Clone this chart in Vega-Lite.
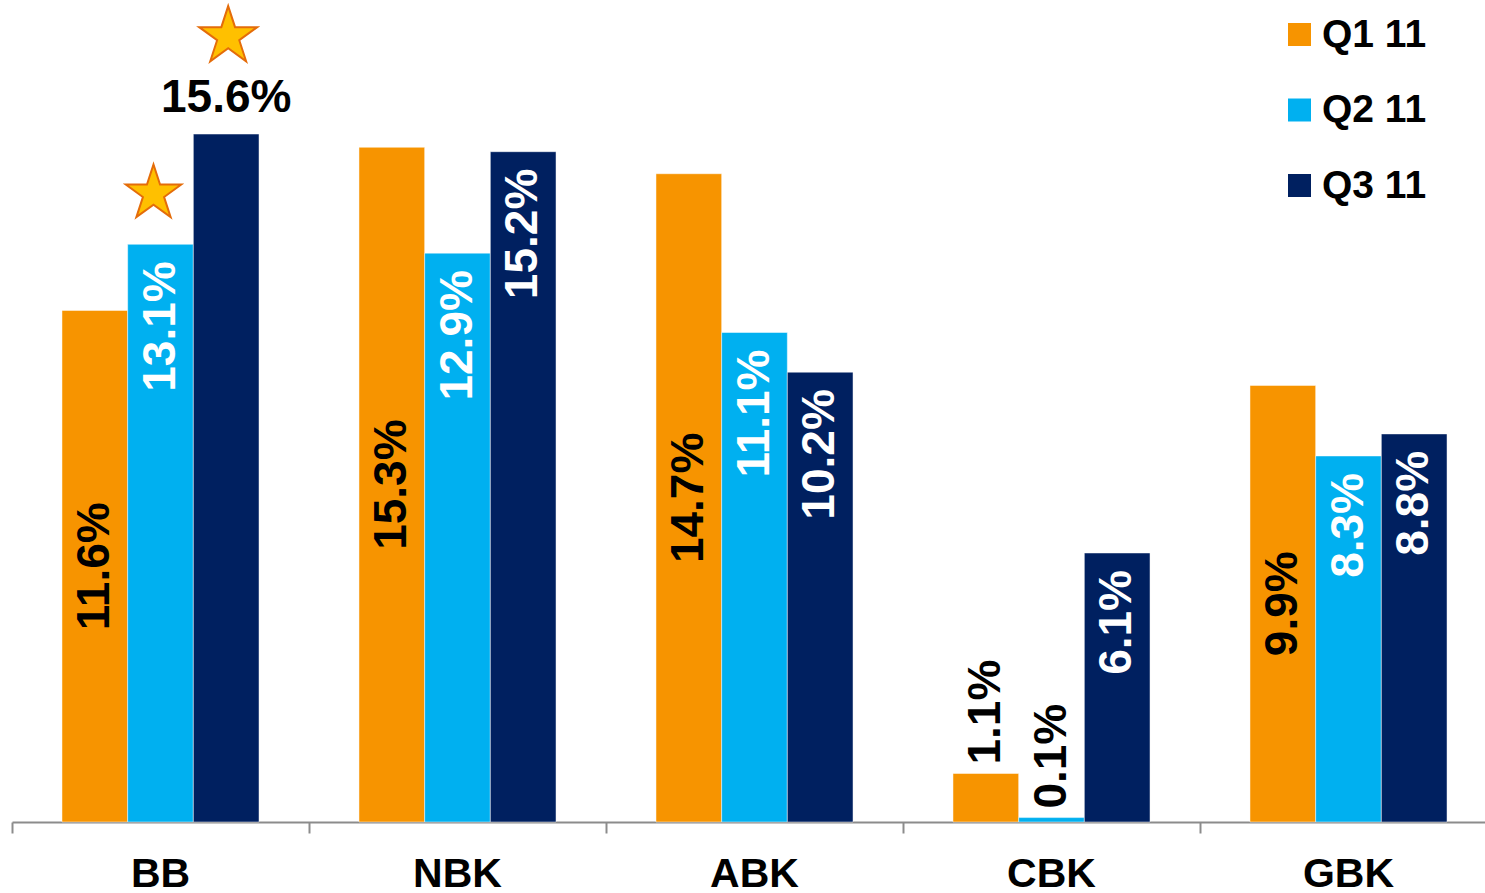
{
  "$schema": "https://vega.github.io/schema/vega-lite/v6.json",
  "width": 1473,
  "height": 822,
  "autosize": {"type": "none"},
  "padding": {"left": 12, "top": 0, "right": 0, "bottom": 71},
  "background": "white",
  "config": {"view": {"stroke": null}, "font": "Liberation Sans"},
  "datasets": {
    "bars": [
      {"bank": "BB", "series": "Q1 11", "value": 0.116},
      {"bank": "BB", "series": "Q2 11", "value": 0.131},
      {"bank": "BB", "series": "Q3 11", "value": 0.156},
      {"bank": "NBK", "series": "Q1 11", "value": 0.153},
      {"bank": "NBK", "series": "Q2 11", "value": 0.129},
      {"bank": "NBK", "series": "Q3 11", "value": 0.152},
      {"bank": "ABK", "series": "Q1 11", "value": 0.147},
      {"bank": "ABK", "series": "Q2 11", "value": 0.111},
      {"bank": "ABK", "series": "Q3 11", "value": 0.102},
      {"bank": "CBK", "series": "Q1 11", "value": 0.011},
      {"bank": "CBK", "series": "Q2 11", "value": 0.001},
      {"bank": "CBK", "series": "Q3 11", "value": 0.061},
      {"bank": "GBK", "series": "Q1 11", "value": 0.099},
      {"bank": "GBK", "series": "Q2 11", "value": 0.083},
      {"bank": "GBK", "series": "Q3 11", "value": 0.088}
    ],
    "stars": [
      {"bank": "BB", "series": "Q2 11", "level": 0.1425},
      {"bank": "BB", "series": "Q3 11", "level": 0.1781}
    ]
  },
  "resolve": {"scale": {"y": "independent"}},
  "layer": [
    {
      "data": {"name": "bars"},
      "mark": {"type": "bar", "stroke": "white", "strokeWidth": 0.8, "strokeOpacity": 0.6},
      "encoding": {
        "x": {
          "field": "bank", "type": "nominal",
          "sort": ["BB", "NBK", "ABK", "CBK", "GBK"],
          "scale": {"range": [0, 1485], "paddingInner": 0, "paddingOuter": 0},
          "axis": {
            "title": null, "bandPosition": 0, "labelAngle": 0,
            "domainColor": "#8c8c8c", "domainWidth": 2, "domainCap": "butt",
            "tickColor": "#8c8c8c", "tickWidth": 2, "tickSize": 11,
            "labelFont": "Liberation Sans", "labelFontSize": 41, "labelFontWeight": "bold",
            "labelColor": "black", "labelBaseline": "top", "labelPadding": 21
          }
        },
        "xOffset": {
          "field": "series", "type": "nominal",
          "scale": {"paddingInner": 0, "paddingOuter": 0.761}
        },
        "y": {"field": "value", "type": "quantitative", "scale": {"domain": [0, 0.1864], "nice": false}, "axis": null},
        "color": {
          "field": "series", "type": "nominal",
          "scale": {"domain": ["Q1 11", "Q2 11", "Q3 11"], "range": ["#F79400", "#00B0F0", "#002060"]},
          "legend": {
            "title": null, "orient": "none", "legendX": 1268, "legendY": 15, "direction": "vertical",
            "symbolType": "square", "symbolSize": 529, "symbolStrokeWidth": 0, "symbolOpacity": 1,
            "labelFont": "Liberation Sans", "labelFontSize": 39, "labelFontWeight": "bold", "labelColor": "black",
            "labelOffset": 3, "rowPadding": 35.5, "padding": 0
          }
        }
      }
    },
    {
      "data": {"name": "bars"},
      "transform": [{"filter": "datum.series === 'Q1 11' && datum.value >= 0.05"}],
      "mark": {"type": "text", "angle": 270, "align": "center", "baseline": "middle", "font": "Liberation Sans", "fontSize": 46, "fontWeight": "bold", "color": "black"},
      "encoding": {
        "x": {"field": "bank", "type": "nominal", "sort": ["BB", "NBK", "ABK", "CBK", "GBK"]},
        "xOffset": {"field": "series", "type": "nominal"},
        "y": {"field": "value", "type": "quantitative", "scale": {"domain": [0, 0.3728], "nice": false}, "axis": null},
        "text": {"field": "value", "type": "quantitative", "format": ".1%"}
      }
    },
    {
      "data": {"name": "bars"},
      "transform": [{"filter": "datum.series !== 'Q1 11' && datum.value >= 0.05 && !(datum.bank === 'BB' && datum.series === 'Q3 11')"}],
      "mark": {"type": "text", "angle": 270, "align": "right", "baseline": "middle", "yOffset": 17, "font": "Liberation Sans", "fontSize": 46, "fontWeight": "bold", "color": "white"},
      "encoding": {
        "x": {"field": "bank", "type": "nominal", "sort": ["BB", "NBK", "ABK", "CBK", "GBK"]},
        "xOffset": {"field": "series", "type": "nominal"},
        "y": {"field": "value", "type": "quantitative", "scale": {"domain": [0, 0.1864], "nice": false}, "axis": null},
        "text": {"field": "value", "type": "quantitative", "format": ".1%"}
      }
    },
    {
      "data": {"name": "bars"},
      "transform": [{"filter": "datum.value < 0.05"}],
      "mark": {"type": "text", "angle": 270, "align": "left", "baseline": "middle", "yOffset": -9, "font": "Liberation Sans", "fontSize": 46, "fontWeight": "bold", "color": "black"},
      "encoding": {
        "x": {"field": "bank", "type": "nominal", "sort": ["BB", "NBK", "ABK", "CBK", "GBK"]},
        "xOffset": {"field": "series", "type": "nominal"},
        "y": {"field": "value", "type": "quantitative", "scale": {"domain": [0, 0.1864], "nice": false}, "axis": null},
        "text": {"field": "value", "type": "quantitative", "format": ".1%"}
      }
    },
    {
      "data": {"name": "bars"},
      "transform": [{"filter": "datum.bank === 'BB' && datum.series === 'Q3 11'"}],
      "mark": {"type": "text", "align": "center", "baseline": "alphabetic", "yOffset": -22, "font": "Liberation Sans", "fontSize": 46, "fontWeight": "bold", "color": "black"},
      "encoding": {
        "x": {"field": "bank", "type": "nominal", "sort": ["BB", "NBK", "ABK", "CBK", "GBK"]},
        "xOffset": {"field": "series", "type": "nominal"},
        "y": {"field": "value", "type": "quantitative", "scale": {"domain": [0, 0.1864], "nice": false}, "axis": null},
        "text": {"field": "value", "type": "quantitative", "format": ".1%"}
      }
    },
    {
      "data": {"name": "stars"},
      "transform": [{"filter": "datum.series === 'Q2 11'"}],
      "mark": {
        "type": "point", "filled": true, "size": 3400, "fill": "#FFC000", "stroke": "#E46C0A", "strokeWidth": 2, "opacity": 1, "fillOpacity": 1,
        "shape": "M-0.24,-1L-0.0155,-0.309L0.711,-0.309L0.123,0.118L0.348,0.809L-0.24,0.382L-0.828,0.809L-0.603,0.118L-1.191,-0.309L-0.4645,-0.309Z"
      },
      "encoding": {
        "x": {"field": "bank", "type": "nominal", "sort": ["BB", "NBK", "ABK", "CBK", "GBK"]},
        "xOffset": {"field": "series", "type": "nominal"},
        "y": {"field": "level", "type": "quantitative", "scale": {"domain": [0, 0.1864], "nice": false}, "axis": null}
      }
    },
    {
      "data": {"name": "stars"},
      "transform": [{"filter": "datum.series === 'Q3 11'"}],
      "mark": {
        "type": "point", "filled": true, "size": 3721, "fill": "#FFC000", "stroke": "#E46C0A", "strokeWidth": 2, "opacity": 1, "fillOpacity": 1,
        "shape": "M0.066,-1L0.2905,-0.309L1.017,-0.309L0.429,0.118L0.654,0.809L0.066,0.382L-0.522,0.809L-0.297,0.118L-0.885,-0.309L-0.1585,-0.309Z"
      },
      "encoding": {
        "x": {"field": "bank", "type": "nominal", "sort": ["BB", "NBK", "ABK", "CBK", "GBK"]},
        "xOffset": {"field": "series", "type": "nominal"},
        "y": {"field": "level", "type": "quantitative", "scale": {"domain": [0, 0.1864], "nice": false}, "axis": null}
      }
    }
  ]
}
